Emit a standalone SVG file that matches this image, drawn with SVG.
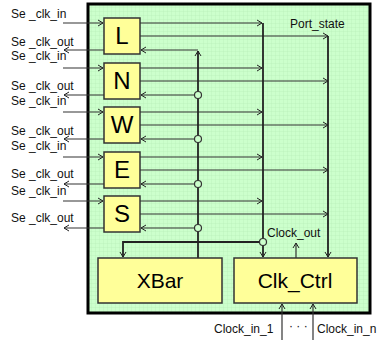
<svg xmlns="http://www.w3.org/2000/svg" width="380" height="340" viewBox="0 0 380 340">
<defs>
<pattern id="grid" width="4" height="4" patternUnits="userSpaceOnUse">
<rect width="4" height="4" fill="#ccffcc"/>
<path d="M4,0 V4 M0,4 H4" stroke="#b4ecb4" stroke-width="0.6" fill="none"/>
</pattern>
<marker id="ar" markerWidth="8" markerHeight="8" refX="6" refY="4" orient="auto" markerUnits="userSpaceOnUse">
<path d="M1,1 L6,4 L1,7" fill="none" stroke="#222" stroke-width="1"/>
</marker>
<style>
.lbl{font-family:"Liberation Sans",Arial,sans-serif;font-size:12px;fill:#111}
.mod{fill:#ffff99;stroke:#333;stroke-width:1.5}
.mt{font-family:"Liberation Sans",Arial,sans-serif;font-size:24px;fill:#000;text-anchor:middle}
.bt{font-family:"Liberation Sans",Arial,sans-serif;font-size:21px;fill:#000;text-anchor:middle}
.ln{stroke:#333;stroke-width:1.2;fill:none}
.bus{stroke:#222;stroke-width:1.8;fill:none}
.a{marker-end:url(#ar)}
.j{fill:#ccffcc;stroke:#333;stroke-width:1.2}
</style>
</defs>
<g id="frame"><rect x="88" y="4" width="282" height="309" fill="url(#grid)" stroke="#000" stroke-width="3"/></g>
<g id="connectors">
<path class="ln a" d="M63,23H103"/><path class="ln a" d="M104,50H64"/>
<path class="ln a" d="M140,23H262"/><path class="ln a" d="M140,36H328"/><path class="ln a" d="M198,50H141"/>
<path class="ln a" d="M63,68H103"/><path class="ln a" d="M104,95H64"/>
<path class="ln a" d="M140,68H262"/><path class="ln a" d="M140,81H328"/><path class="ln a" d="M198,95H141"/>
<path class="ln a" d="M63,112H103"/><path class="ln a" d="M104,139H64"/>
<path class="ln a" d="M140,112H262"/><path class="ln a" d="M140,125H328"/><path class="ln a" d="M198,139H141"/>
<path class="ln a" d="M63,157H103"/><path class="ln a" d="M104,184H64"/>
<path class="ln a" d="M140,157H262"/><path class="ln a" d="M140,170H328"/><path class="ln a" d="M198,184H141"/>
<path class="ln a" d="M63,201H103"/><path class="ln a" d="M104,228H64"/>
<path class="ln a" d="M140,201H262"/><path class="ln a" d="M140,214H328"/><path class="ln a" d="M198,228H141"/>
<path class="bus a" d="M198,258V51"/>
<path class="bus a" d="M263,23V257"/>
<path class="bus a" d="M328,36V257"/>
<path class="bus a" d="M263,242H123V257"/>
<path class="ln a" d="M296,258V243" stroke="#555"/>
<path class="ln a" d="M282,340V304"/>
<path class="ln a" d="M313,340V304"/>
<circle class="j" cx="198" cy="95" r="3.5"/>
<circle class="j" cx="198" cy="139" r="3.5"/>
<circle class="j" cx="198" cy="184" r="3.5"/>
<circle class="j" cx="198" cy="228" r="3.5"/>
<circle class="j" cx="263" cy="242" r="3.5"/>
</g>
<g id="L"><rect class="mod" x="104" y="18" width="36" height="36"/><text class="mt" x="122" y="44">L</text></g>
<g id="N"><rect class="mod" x="104" y="63" width="36" height="36"/><text class="mt" x="122" y="89">N</text></g>
<g id="W"><rect class="mod" x="104" y="107" width="36" height="36"/><text class="mt" x="122" y="133">W</text></g>
<g id="E"><rect class="mod" x="104" y="152" width="36" height="36"/><text class="mt" x="122" y="178">E</text></g>
<g id="S"><rect class="mod" x="104" y="196" width="36" height="36"/><text class="mt" x="122" y="222">S</text></g>
<g id="XBar"><rect class="mod" x="98" y="258" width="124" height="45"/><text class="bt" x="160" y="288">XBar</text></g>
<g id="Clk_Ctrl"><rect class="mod" x="234" y="258" width="123" height="45"/><text class="bt" x="295" y="288">Clk_Ctrl</text></g>
<g id="labels">
<text class="lbl" x="11" y="18">Se _clk_in</text>
<text class="lbl" x="11" y="46">Se _clk_out</text>
<text class="lbl" x="11" y="60">Se _clk_in</text>
<text class="lbl" x="11" y="90">Se _clk_out</text>
<text class="lbl" x="11" y="105">Se _clk_in</text>
<text class="lbl" x="11" y="135">Se _clk_out</text>
<text class="lbl" x="11" y="150">Se _clk_in</text>
<text class="lbl" x="11" y="178">Se _clk_out</text>
<text class="lbl" x="11" y="195">Se _clk_in</text>
<text class="lbl" x="11" y="222">Se _clk_out</text>
<text class="lbl" x="290" y="28">Port_state</text>
<text class="lbl" x="267" y="237">Clock_out</text>
<text class="lbl" x="214" y="333">Clock_in_1</text>
<text class="lbl" x="289" y="330">· · ·</text>
<text class="lbl" x="317" y="333">Clock_in_n</text>
</g>
</svg>
